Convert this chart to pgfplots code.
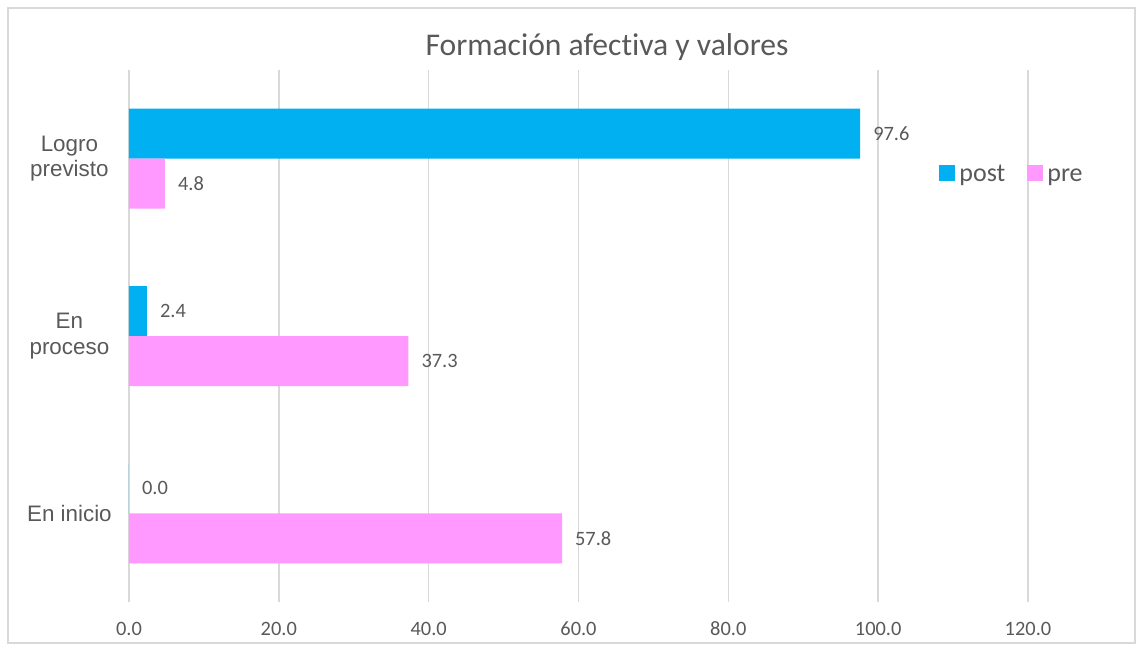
\documentclass[border=0pt]{standalone}
\usepackage{pgfplots}
\pgfplotsset{compat=1.18}
\usepackage{fontspec}
\setmainfont{Carlito}[Ligatures=NoCommon]
\newfontfamily\arialf{Liberation Sans}
\definecolor{postc}{HTML}{00B0F0}
\definecolor{prec}{HTML}{FF99FF}
\definecolor{txt}{HTML}{595959}
\definecolor{gridc}{HTML}{D9D9D9}
\begin{document}
\begin{tikzpicture}
\useasboundingbox (-64.5pt,-21pt) rectangle (503.5pt,301pt);
\draw[gridc, line width=0.6pt] (-60.5pt,-20.5pt) rectangle (503pt,297pt);
\begin{axis}[
 at={(0,0)}, anchor=south west,
 scale only axis, width=449.5pt, height=266pt,
 xbar, bar width=25pt,
 xmin=0, xmax=120, ymin=-0.5, ymax=2.5,
 xtick={0,20,...,120},
 ytick={0,1,2},
 yticklabels={En inicio, En\\proceso, Logro\\previsto},
 xmajorgrids, major grid style={gridc, line width=0.8pt},
 axis line style={draw=none},
 major tick length=0pt,
 tick label style={txt},
 xticklabel style={font=\fontsize{10.2}{12}\selectfont, anchor=base, yshift=-16.5pt, /pgf/number format/fixed, /pgf/number format/fixed zerofill, /pgf/number format/precision=1},
 yticklabel style={font=\arialf\fontsize{11.2}{12.9}\selectfont, align=center, anchor=center, xshift=-29.8pt},
 /pgf/number format/assume math mode=true,
 nodes near coords,
 nodes near coords style={anchor=west, font=\fontsize{10.2}{12}\selectfont, txt, xshift=3pt, /pgf/number format/fixed, /pgf/number format/fixed zerofill, /pgf/number format/precision=1},
 legend style={at={(0.901,0.8026)}, anchor=west, draw=none, fill=none, inner sep=0pt, font=\fontsize{13}{15}\selectfont, text=txt, nodes={text height=9pt, text depth=3pt}, /tikz/every even column/.append style={column sep=9pt}},
 legend columns=2,
 legend cell align=left,
 legend image code/.code={\fill[#1] (0pt,-3pt) rectangle (8pt,5pt);},
]
\addplot[fill=postc, draw=none, bar shift=12.5pt] coordinates {(0,0) (2.4,1) (97.6,2)};
\addplot[fill=prec, draw=none, bar shift=-12.5pt] coordinates {(57.8,0) (37.3,1) (4.8,2)};
\legend{post, pre}
\end{axis}
\node[txt, font=\fontsize{15.8}{19}\selectfont] at (239pt,277.5pt) {Formación afectiva y valores};
\end{tikzpicture}
\end{document}
